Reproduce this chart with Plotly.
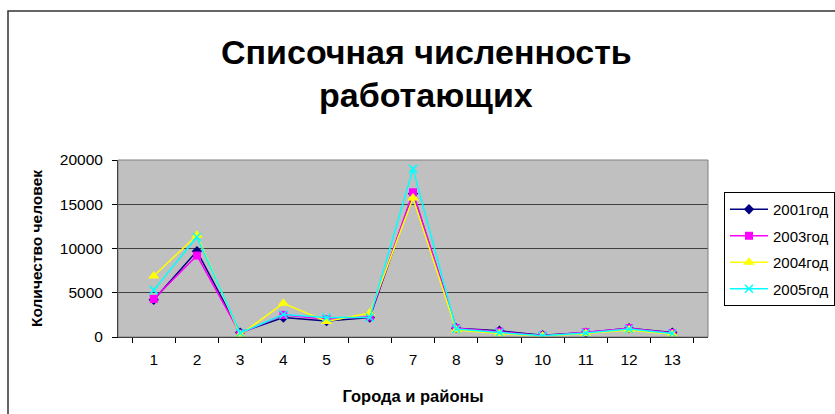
import plotly.graph_objects as go

categories = ["1", "2", "3", "4", "5", "6", "7", "8", "9", "10", "11", "12", "13"]
y2001 = [4200, 9700, 500, 2200, 1800, 2200, 16200, 1000, 700, 200, 500, 1000, 500]
y2003 = [4300, 9200, 400, 2500, 2000, 2300, 16350, 1000, 600, 150, 550, 1000, 450]
y2004 = [6900, 11500, 250, 3800, 1750, 2700, 15700, 800, 400, 100, 400, 800, 300]
y2005 = [5300, 11300, 450, 2550, 2200, 2200, 19000, 900, 500, 150, 450, 900, 400]
series_names = ["2001год", "2003год", "2004год", "2005год"]
title_lines = ["Списочная численность", "работающих"]

FONT = "Liberation Sans, Arial, sans-serif"
W, H = 835, 414
L, R, T, B = 118, 127, 160, 77
pw, ph = W - L - R, H - T - B


def px_x(x):
    return (x - L) / pw


def px_y(y):
    return (H - B - y) / ph


fig = go.Figure()
specs = [
    (y2001, "#000080", "diamond", 8),
    (y2003, "#FF00FF", "square", 8),
    (y2004, "#FFFF00", "triangle-up", 10),
    (y2005, "#00FFFF", "x-thin", 8),
]
for name, (vals, color, sym, size) in zip(series_names, specs):
    marker = dict(symbol=sym, size=size, color=color)
    if sym == "x-thin":
        marker["line"] = dict(color=color, width=1.5)
    fig.add_trace(go.Scatter(
        x=categories, y=vals, name=name, mode="lines+markers",
        line=dict(color=color, width=1.5), marker=marker, legendgroup=name,
    ))

annotations = [
    dict(text="<b>" + title_lines[0] + "</b>", x=px_x(426), y=px_y(52),
         xref="paper", yref="paper", showarrow=False, xanchor="center", yanchor="middle",
         font=dict(size=34, family=FONT, color="black")),
    dict(text="<b>" + title_lines[1] + "</b>", x=px_x(426), y=px_y(95),
         xref="paper", yref="paper", showarrow=False, xanchor="center", yanchor="middle",
         font=dict(size=34, family=FONT, color="black")),
]

fig.update_layout(
    width=W, height=H,
    margin=dict(l=L, r=R, t=T, b=B, autoexpand=False),
    paper_bgcolor="white",
    plot_bgcolor="#C0C0C0",
    font=dict(family=FONT, color="black", size=15.5),
    annotations=annotations,
    showlegend=True,
    legend=dict(
        x=px_x(724), xanchor="left", y=px_y(192), yanchor="top",
        bordercolor="black", borderwidth=1, bgcolor="white",
        font=dict(size=15, family=FONT), tracegroupgap=4, itemwidth=38,
    ),
    xaxis=dict(
        type="category",
        title=dict(text="<b>Города и районы</b>", font=dict(size=16.5), standoff=23),
        showgrid=False, showline=True, linecolor="black", linewidth=1,
        ticks="outside", tickson="boundaries", ticklen=5, tickcolor="black",
        ticklabelstandoff=8, tickfont=dict(size=15.5),
    ),
    yaxis=dict(
        range=[0, 20000], tickvals=[0, 5000, 10000, 15000, 20000], tickformat="d",
        title=dict(text="<b>Количество человек</b>", font=dict(size=15.5), standoff=13),
        showgrid=True, gridcolor="#404040", gridwidth=1,
        showline=True, linecolor="black", linewidth=1,
        ticks="outside", ticklen=5, tickcolor="black", zeroline=False,
        ticklabelstandoff=6, tickfont=dict(size=15.5),
    ),
    shapes=[
        dict(type="rect", xref="paper", yref="paper", x0=0, x1=1, y0=0, y1=1,
             line=dict(color="#808080", width=1), fillcolor="rgba(0,0,0,0)", layer="above"),
        dict(type="rect", xref="paper", yref="paper", x0=px_x(8), x1=px_x(900),
             y0=px_y(450), y1=px_y(11),
             line=dict(color="#333333", width=1.5), fillcolor="rgba(0,0,0,0)"),
    ],
)

fig.write_html("out.html", config={"displayModeBar": False},
               post_script="document.body.style.margin='0';document.body.style.overflow='hidden';")
